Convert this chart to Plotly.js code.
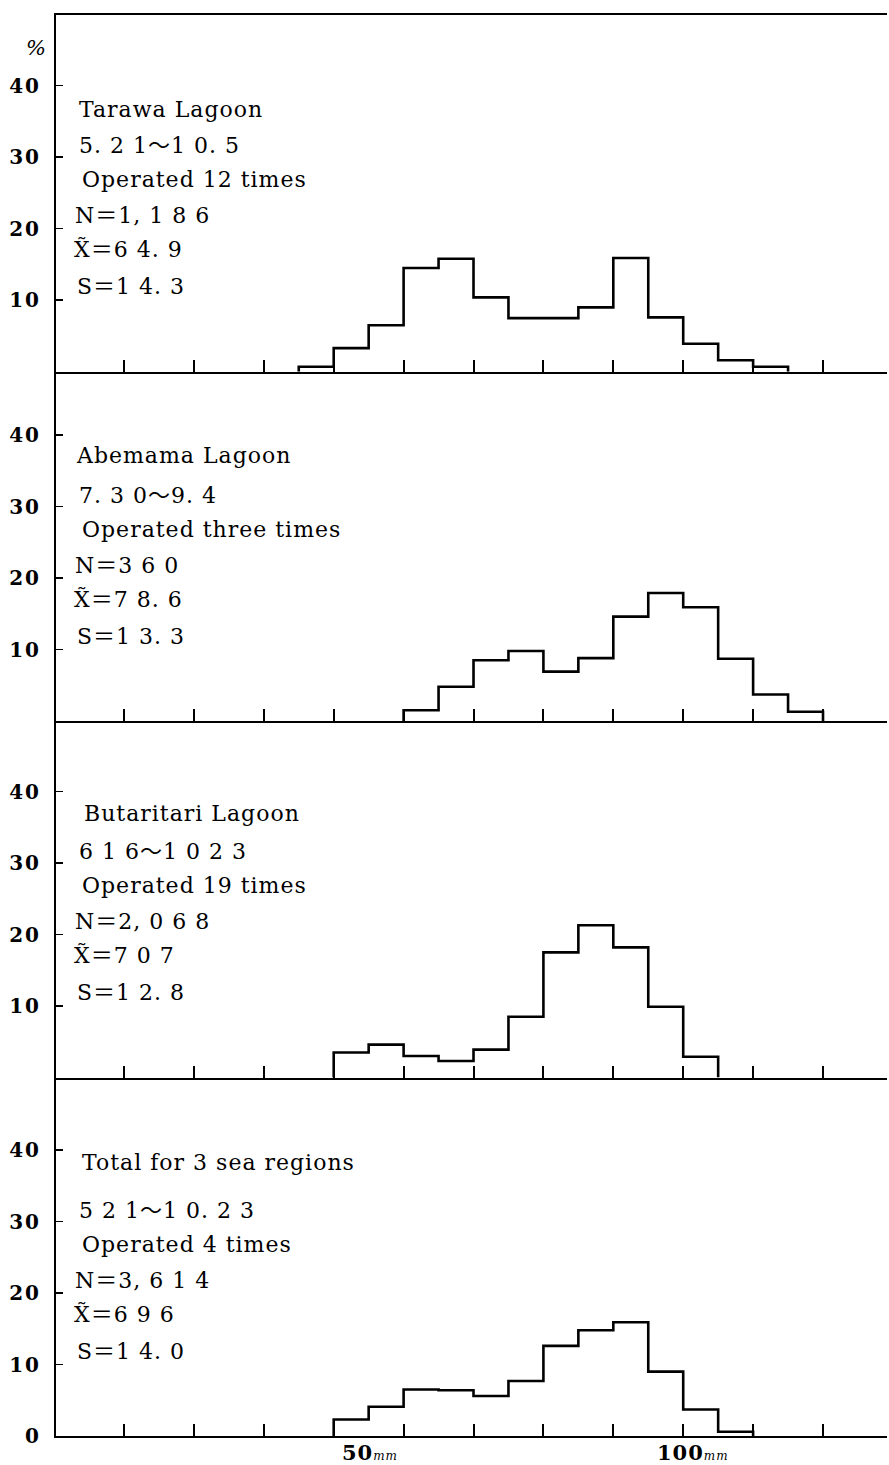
<!DOCTYPE html>
<html>
<head>
<meta charset="utf-8">
<script src="https://cdn.plot.ly/plotly-3.0.1.min.js"></script>
<style>
html,body{margin:0;padding:0;background:#fff;}
#chart{width:889px;height:1465px;}
.annotation-text{letter-spacing:1px;}
g[class$="tick"] text{letter-spacing:2px;}
</style>
</head>
<body>
<div id="chart"></div>
<script>
// ---------------- DATA ----------------
const binWidth = 5;                 // mm per class
const panelNames = ["Tarawa Lagoon", "Abemama Lagoon", "Butaritari Lagoon", "Total for 3 sea regions"];
const panelDates = ["5. 2 1～1 0. 5", "7. 3 0～9. 4", "6 1 6～1 0 2 3", "5 2 1～1 0. 2 3"];
const panelOps   = ["Operated 12 times", "Operated three times", "Operated 19 times", "Operated 4 times"];
const panelN     = ["N＝1, 1 8 6", "N＝3 6 0", "N＝2, 0 6 8", "N＝3, 6 1 4"];
const panelMed   = ["X̃＝6 4. 9", "X̃＝7 8. 6", "X̃＝7 0 7", "X̃＝6 9 6"];
const panelS     = ["S＝1 4. 3", "S＝1 3. 3", "S＝1 2. 8", "S＝1 4. 0"];

// first class lower bound (mm) and percentage per 5 mm class
const tarawaStart = 45;
const tarawaPct = [0.7, 3.3, 6.5, 14.5, 15.8, 10.4, 7.5, 7.5, 9.0, 15.9, 7.6, 3.9, 1.6, 0.7];
const abemamaStart = 60;
const abemamaPct = [1.5, 4.8, 8.5, 9.8, 6.9, 8.8, 14.6, 17.9, 15.9, 8.7, 3.7, 1.3];
const butaritariStart = 50;
const butaritariPct = [3.5, 4.6, 3.0, 2.3, 3.9, 8.5, 17.5, 21.3, 18.2, 9.9, 2.9];
const totalStart = 50;
const totalPct = [2.3, 4.1, 6.5, 6.4, 5.6, 7.7, 12.6, 14.8, 15.9, 9.0, 3.7, 0.6];

const xTickVals = [20, 30, 40, 50, 60, 70, 80, 90, 100, 110, 120];
const yTickVals = [10, 20, 30, 40];
const yTickValsLast = [0, 10, 20, 30, 40];
const xLabelNum = ["50", "100"];
const xLabelUnit = "mm";

// ---------------- LAYOUT GEOMETRY ----------------
const W = 889, H = 1465;
const ML = 56, MR = 2, MT = 15, MB = 29;
const plotTop = MT, plotBot = H - MB, plotH = plotBot - plotTop, plotW = W - ML - MR;
const pxPerPct = 7.15;
const pxPerMm = 6.99;
const xMin = 10.27;
const xRange = [xMin, xMin + plotW / pxPerMm];
const panelTopPx  = [15, 371.7, 721, 1077.5];
const panelBasePx = [371.7, 721, 1077.5, 1436];
const nameOffset = [-262, -265, -264, -274];
const lineOffsets = [-226, -192, -156, -122, -85];
const lineLeft = [77, 80, 73, 72, 75];
const nameLeft = [77, 74, 82, 80];

const starts = [tarawaStart, abemamaStart, butaritariStart, totalStart];
const pcts = [tarawaPct, abemamaPct, butaritariPct, totalPct];

const fx = px => (px - ML) / plotW;
const fy = py => (plotBot - py) / plotH;

const textFont = {family: "DejaVu Serif, Noto Sans CJK JP, serif", size: 22, color: "#000"};
const tickFont = {family: "DejaVu Serif, serif", size: 20, color: "#000", weight: "bold"};

const data = [];
const layout = {
  width: W, height: H,
  margin: {l: ML, r: MR, t: MT, b: MB, pad: 0},
  paper_bgcolor: "#fff", plot_bgcolor: "rgba(0,0,0,0)",
  showlegend: false,
  annotations: []
};

for (let i = 0; i < 4; i++) {
  const sfx = i === 0 ? "" : String(i + 1);
  // step outline of histogram
  const xs = [starts[i]], ys = [0];
  pcts[i].forEach((v, k) => { xs.push(starts[i] + k * binWidth); ys.push(v); });
  xs.push(starts[i] + pcts[i].length * binWidth); ys.push(0);
  data.push({
    type: "scatter", mode: "lines", x: xs, y: ys,
    xaxis: "x" + sfx, yaxis: "y" + sfx,
    line: {color: "#000", width: 2.6, shape: "hv"},
    cliponaxis: false, hoverinfo: "skip"
  });
  const yTop = (panelBasePx[i] - panelTopPx[i]) / pxPerPct;
  const tv = i === 3 ? yTickValsLast : yTickVals;
  layout["xaxis" + sfx] = {
    anchor: "y" + sfx, range: xRange, showgrid: false, zeroline: false,
    showline: true, linecolor: "#000", linewidth: 2, mirror: i === 0,
    ticks: "inside", ticklen: 12, tickwidth: 2, tickcolor: "#000",
    tickvals: xTickVals, showticklabels: false, fixedrange: true
  };
  layout["yaxis" + sfx] = {
    anchor: "x" + sfx, domain: [fy(panelBasePx[i]), fy(panelTopPx[i])],
    range: [0, yTop], showgrid: false, zeroline: false,
    showline: true, linecolor: "#000", linewidth: 2,
    ticks: "inside", ticklen: 7, tickwidth: 1.5, tickcolor: "#000",
    tickvals: tv, ticktext: tv.map(String), tickfont: tickFont,
    ticklabelstandoff: 9, fixedrange: true
  };
  // panel texts
  const lines = [panelDates[i], panelOps[i], panelN[i], panelMed[i], panelS[i]];
  layout.annotations.push({
    xref: "paper", yref: "paper", x: fx(nameLeft[i]), y: fy(panelBasePx[i] + nameOffset[i]),
    xanchor: "left", yanchor: "middle", showarrow: false, text: panelNames[i], font: textFont
  });
  lines.forEach((t, k) => {
    layout.annotations.push({
      xref: "paper", yref: "paper", x: fx(lineLeft[k]), y: fy(panelBasePx[i] + lineOffsets[k]),
      xanchor: "left", yanchor: "middle", showarrow: false, text: t, font: textFont
    });
  });
}

// percent sign
layout.annotations.push({
  xref: "paper", yref: "paper", x: fx(36), y: fy(48), xanchor: "center", yanchor: "middle",
  showarrow: false, text: "<i>%</i>", font: {family: "DejaVu Serif, serif", size: 21, color: "#000"}
});
// x labels
const xLabelLeftPx = [340, 655];
xLabelNum.forEach((t, k) => {
  layout.annotations.push({
    xref: "paper", yref: "paper", x: fx(xLabelLeftPx[k]), y: fy(1452), xanchor: "left", yanchor: "middle",
    showarrow: false,
    text: "<b>" + t + "</b><i><span style=\"font-size:12px\">" + xLabelUnit + "</span></i>",
    font: {family: "DejaVu Serif, serif", size: 21, color: "#000"}
  });
});

Plotly.newPlot("chart", data, layout, {staticPlot: true, displayModeBar: false});
</script>
</body>
</html>
